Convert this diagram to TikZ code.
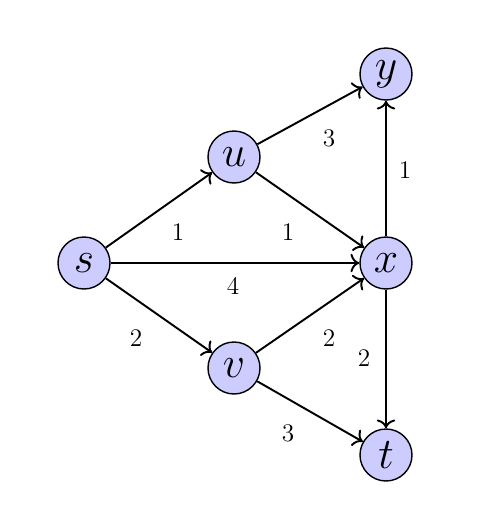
\documentclass[tikz,border=0pt]{standalone}
\usetikzlibrary{positioning,arrows.meta}
\definecolor{relleno}{HTML}{CCCCFF}
\tikzset{v/.style={circle,draw=black,fill=relleno,line width=.8pt,minimum size=10.4mm,inner sep=0,font=\Huge},
         w/.style={font=\Large},
         e/.style={-{To[scale=1.25]},line width=1.1pt}}

\begin{document}
\begin{tikzpicture}
  \useasboundingbox (0,0) rectangle (9.92,-10.44);
  \node[v] (s) at (1.68,-5.26) {$s$};
  \node[v] (u) at (4.68,-3.14) {$u$};
  \node[v] (vv) at (4.68,-7.36) {$v$};
  \node[v] (x) at (7.72,-5.26) {$x$};
  \node[v] (y) at (7.72,-1.48) {$y$};
  \node[v] (t) at (7.72,-9.10) {$t$};
  \draw[e] (s)--(u);
  \draw[e] (s)--(x);
  \draw[e] (s)--(vv);
  \draw[e] (u)--(y);
  \draw[e] (u)--(x);
  \draw[e] (vv)--(x);
  \draw[e] (vv)--(t);
  \draw[e] (x)--(y);
  \draw[e] (x)--(t);
  \node[w] (su) at (3.56,-4.64) {1};
  \node[w] (ux) at (5.76,-4.64) {1};
  \node[w] (sx) at (4.66,-5.72) {4};
  \node[w] (uy) at (6.58,-2.76) {3};
  \node[w] (xy) at (8.10,-3.40) {1};
  \node[w] (sv) at (2.72,-6.76) {2};
  \node[w] (vx) at (6.58,-6.76) {2};
  \node[w] (xt) at (7.28,-7.16) {2};
  \node[w] (vt) at (5.76,-8.66) {3};
\end{tikzpicture}
\end{document}
